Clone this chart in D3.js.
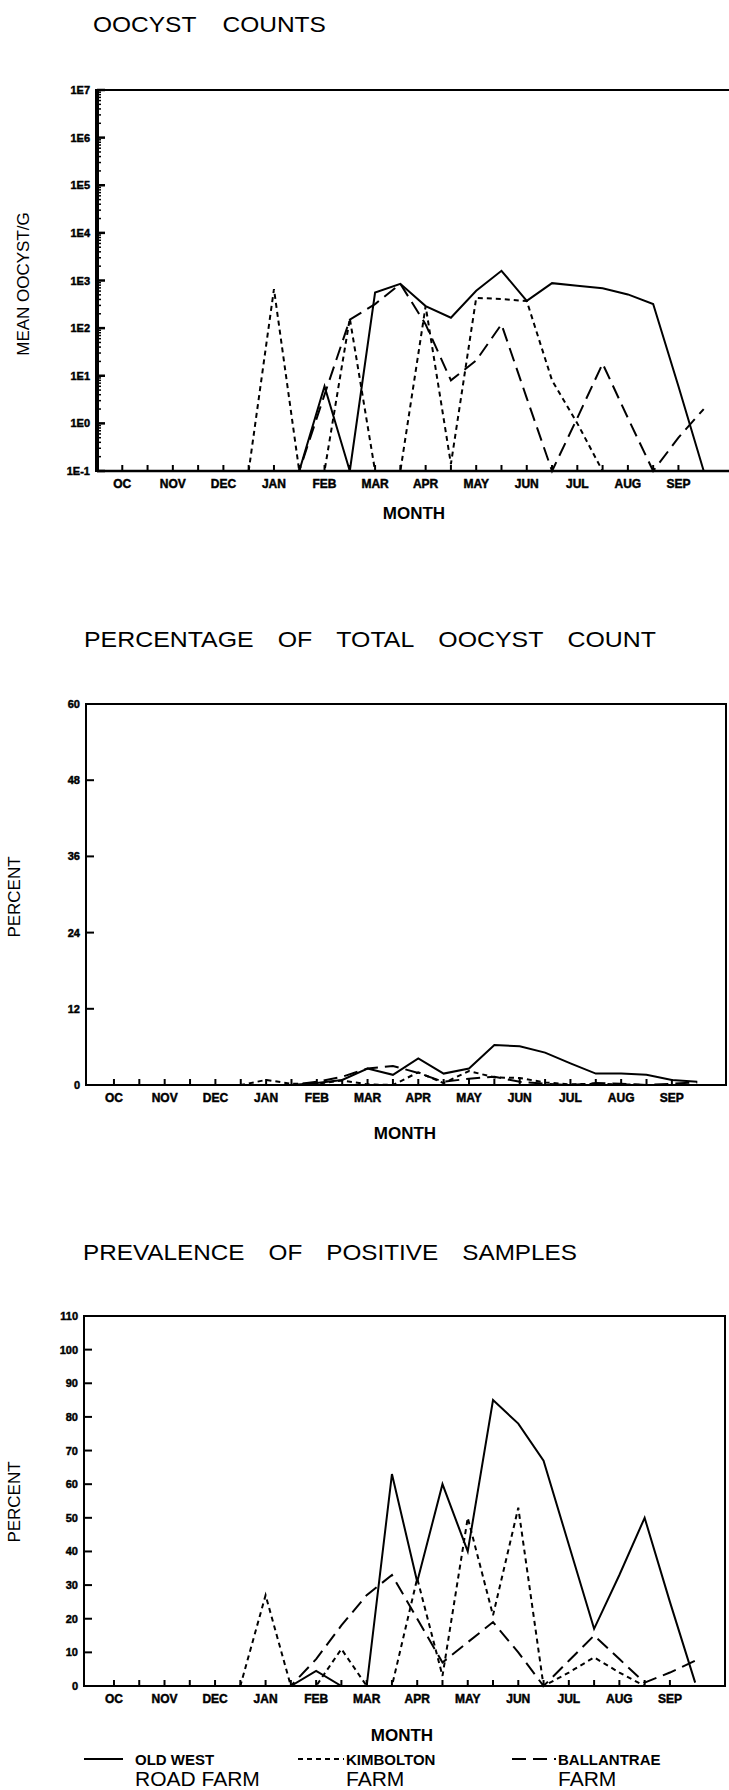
<!DOCTYPE html>
<html><head><meta charset="utf-8">
<script src="https://cdn.jsdelivr.net/npm/d3@7"></script>
<style>
body{margin:0;background:#fff;}
svg{display:block;}
text{font-family:"Liberation Sans",Arial,sans-serif;fill:#000;}
text.heavy{stroke:#000;stroke-width:0.45px;}
</style></head><body>
<svg id="c" width="729" height="1790"></svg>
<script>
// ---------- DATA ----------
const monthLabels = ["OC","NOV","DEC","JAN","FEB","MAR","APR","MAY","JUN","JUL","AUG","SEP"];
const monthTickIdx = [1,3,5,7,9,11,13,15,17,19,21,23];
const halfMonthTicks = [1,2,3,4,5,6,7,8,9,10,11,12,13,14,15,16,17,18,19,20,21,22,23];
const sampleIdx = [1,2,3,4,5,6,7,8,9,10,11,12,13,14,15,16,17,18,19,20,21,22,23,24];

// Chart 1: mean oocyst / g (log scale; 0 drawn on the 1E-1 floor)
const countOWRF = [0,0,0,0,0,0,0,0,6,0,560,850,290,165,610,1600,375,880,780,690,510,320,6,0];
const countKim  = [0,0,0,0,0,0,660,0,0,160,0,0,290,0.14,430,410,370,8,1,0,0,0,0,0];
const countBal  = [0,0,0,0,0,0,0,0,4,150,320,850,120,8,21,120,3.4,0,1.3,18,1.3,0,0.5,2];
const logTickLabels = ["1E-1","1E0","1E1","1E2","1E3","1E4","1E5","1E6","1E7"];
const logTickValues = [1e-1,1e0,1e1,1e2,1e3,1e4,1e5,1e6,1e7];

// Chart 2: percentage of total oocyst count
const pctOWRF = [0,0,0,0,0,0,0,0,0.3,0.8,2.6,1.6,4.2,1.8,2.6,6.3,6.1,5.1,3.4,1.8,1.8,1.6,0.8,0.5];
const pctKim  = [0,0,0,0,0,0,0.8,0.2,0.2,0.7,0.1,0,2.0,0.3,2.2,1.2,1.1,0.4,0.1,0.2,0.1,0,0,0];
const pctBal  = [0,0,0,0,0,0,0,0,0.5,1.3,2.6,3.0,1.9,0.5,1.0,1.3,0.5,0.2,0,0.3,0.2,0,0.2,0.4];
const pctTicks = [0,12,24,36,48,60];

// Chart 3: prevalence of positive samples (%)
const prevOWRF = [0,0,0,0,0,0,0,0,4.5,0,0,63,31,60,40,85,78,67,42,17,33,50,25,1];
const prevKim  = [0,0,0,0,0,0,27,0,0,11,0,0,32,3,50,21,53,0,4,8.5,4,0,0,0];
const prevBal  = [0,0,0,0,0,0,0,0,8,18,27,33,20,7,13,19,10,0,7.5,15,8,1,4,7.5];
const prevTicks = [0,10,20,30,40,50,60,70,80,90,100,110];

const seriesNames = [["OLD WEST","ROAD FARM"],["KIMBOLTON","FARM"],["BALLANTRAE","FARM"]];
const dashes = [null,"5,4","14,7"];

// ---------- DRAW ----------
const svg = d3.select("#c");

// place words between x0 and x1, stretched horizontally, fixed gap between words
function fitWords(str, x0, x1, y, size, gap){
  const words = str.split(" ");
  const texts = words.map(w => svg.append("text").attr("x",0).attr("y",0).style("font-size", size+"px").text(w));
  const widths = texts.map(t => t.node().getComputedTextLength());
  const s = (x1 - x0 - gap*(words.length-1)) / d3.sum(widths);
  let cx = x0;
  texts.forEach((t,k)=>{
    t.attr("transform", `translate(${cx},${y}) scale(${s},1)`);
    cx += widths[k]*s + gap;
  });
}

function drawSeries(g, x, y, vals, dash, floor){
  const pts = sampleIdx.map((d,k)=>({i:d, v: floor!==undefined ? Math.max(vals[k], floor) : vals[k]}));
  const line = d3.line().x(d=>x(d.i)).y(d=>y(d.v));
  g.append("path").datum(pts).attr("d", line)
    .attr("fill","none").attr("stroke","#000").attr("stroke-width",2)
    .attr("stroke-linejoin","miter")
    .attr("stroke-dasharray", dash);
}

function xAxis(g, x, yBase, labelY){
  g.selectAll(".ht").data(halfMonthTicks).join("line")
    .attr("x1",d=>x(d)).attr("x2",d=>x(d)).attr("y1",yBase).attr("y2",yBase-6)
    .attr("stroke","#000").attr("stroke-width",2);
  g.selectAll(".ml").data(monthTickIdx).join("text")
    .attr("class","heavy")
    .attr("x",(d)=>x(d)).attr("y",labelY).attr("text-anchor","middle")
    .style("font-size","12px").style("font-weight","bold")
    .text((d,k)=>monthLabels[k]);
}

// ===== Chart 1 =====
{
  const left = 97, top = 90, bottom = 471, right = 729;
  const x = d3.scaleLinear().domain([0,25]).range([97,729]);
  const y = d3.scaleLog().domain([0.1,1e7]).range([bottom, top]);
  const g = svg.append("g");
  fitWords("OOCYST COUNTS", 93, 326, 32, 22, 26);
  g.append("line").attr("x1",left).attr("x2",right).attr("y1",top).attr("y2",top).attr("stroke","#000").attr("stroke-width",2);
  g.append("line").attr("x1",left).attr("x2",right).attr("y1",bottom).attr("y2",bottom).attr("stroke","#000").attr("stroke-width",2.5);
  g.append("line").attr("x1",left).attr("x2",left).attr("y1",top-1).attr("y2",bottom+1).attr("stroke","#000").attr("stroke-width",4);
  const minors = [];
  logTickValues.slice(0,-1).forEach(v=>{ for(let m=2;m<10;m++) minors.push(v*m); });
  g.selectAll(".mn").data(minors).join("line")
    .attr("x1",left).attr("x2",left+4).attr("y1",d=>y(d)).attr("y2",d=>y(d))
    .attr("stroke","#000").attr("stroke-width",1.5);
  g.selectAll(".mj").data(logTickValues).join("line")
    .attr("x1",left).attr("x2",left+8).attr("y1",d=>y(d)).attr("y2",d=>y(d))
    .attr("stroke","#000").attr("stroke-width",2.5);
  g.selectAll(".yl").data(logTickValues).join("text")
    .attr("class","heavy")
    .attr("x",left-7).attr("y",d=>y(d)+4).attr("text-anchor","end")
    .style("font-size","11px").style("font-weight","bold")
    .text((d,k)=>logTickLabels[k]);
  xAxis(g, x, bottom, 488);
  svg.append("text").attr("transform","translate(29,284) rotate(-90)").attr("text-anchor","middle")
    .style("font-size","17px").text("MEAN OOCYST/G");
  svg.append("text").attr("x",414).attr("y",519).attr("text-anchor","middle")
    .style("font-size","17px").style("font-weight","bold").text("MONTH");
  drawSeries(g, x, y, countOWRF, dashes[0], 0.1);
  drawSeries(g, x, y, countKim, dashes[1], 0.1);
  drawSeries(g, x, y, countBal, dashes[2], 0.1);
}

// ===== Chart 2 =====
{
  const left = 86, top = 704, bottom = 1085, right = 726;
  const x = d3.scaleLinear().domain([0,25]).range([88.6, 88.6+25*25.36]);
  const y = d3.scaleLinear().domain([0,60]).range([bottom, top]);
  const g = svg.append("g");
  fitWords("PERCENTAGE OF TOTAL OOCYST COUNT", 84, 656, 647, 22, 24);
  g.append("rect").attr("x",left).attr("y",top).attr("width",right-left).attr("height",bottom-top)
    .attr("fill","none").attr("stroke","#000").attr("stroke-width",2);
  g.selectAll(".mj").data(pctTicks).join("line")
    .attr("x1",left).attr("x2",left+8).attr("y1",d=>y(d)).attr("y2",d=>y(d))
    .attr("stroke","#000").attr("stroke-width",2);
  g.selectAll(".yl").data(pctTicks).join("text")
    .attr("class","heavy")
    .attr("x",left-6).attr("y",d=>y(d)+4).attr("text-anchor","end")
    .style("font-size","11px").style("font-weight","bold").text(d=>d);
  xAxis(g, x, bottom, 1102);
  svg.append("text").attr("transform","translate(20,897) rotate(-90)").attr("text-anchor","middle")
    .style("font-size","17px").text("PERCENT");
  svg.append("text").attr("x",405).attr("y",1139).attr("text-anchor","middle")
    .style("font-size","17px").style("font-weight","bold").text("MONTH");
  drawSeries(g, x, y, pctOWRF, dashes[0]);
  drawSeries(g, x, y, pctKim, dashes[1]);
  drawSeries(g, x, y, pctBal, dashes[2]);
}

// ===== Chart 3 =====
{
  const left = 84, top = 1316, bottom = 1686, right = 725;
  const x = d3.scaleLinear().domain([0,25]).range([88.7, 88.7+25*25.27]);
  const y = d3.scaleLinear().domain([0,110]).range([bottom, top]);
  const g = svg.append("g");
  fitWords("PREVALENCE OF POSITIVE SAMPLES", 83, 577, 1260, 22, 24);
  g.append("rect").attr("x",left).attr("y",top).attr("width",right-left).attr("height",bottom-top)
    .attr("fill","none").attr("stroke","#000").attr("stroke-width",2);
  g.selectAll(".mj").data(prevTicks).join("line")
    .attr("x1",left).attr("x2",left+8).attr("y1",d=>y(d)).attr("y2",d=>y(d))
    .attr("stroke","#000").attr("stroke-width",2);
  g.selectAll(".yl").data(prevTicks).join("text")
    .attr("class","heavy")
    .attr("x",left-6).attr("y",d=>y(d)+4).attr("text-anchor","end")
    .style("font-size","11px").style("font-weight","bold").text(d=>d);
  xAxis(g, x, bottom, 1703);
  svg.append("text").attr("transform","translate(20,1502) rotate(-90)").attr("text-anchor","middle")
    .style("font-size","17px").text("PERCENT");
  svg.append("text").attr("x",402).attr("y",1741).attr("text-anchor","middle")
    .style("font-size","17px").style("font-weight","bold").text("MONTH");
  drawSeries(g, x, y, prevOWRF, dashes[0]);
  drawSeries(g, x, y, prevKim, dashes[1]);
  drawSeries(g, x, y, prevBal, dashes[2]);

  const lg = svg.append("g");
  const sampleX = [[84,123],[298,344],[512,556]];
  const textX = [135,346,558];
  seriesNames.forEach((nm,k)=>{
    lg.append("line").attr("x1",sampleX[k][0]).attr("x2",sampleX[k][1]).attr("y1",1759).attr("y2",1759)
      .attr("stroke","#000").attr("stroke-width",2).attr("stroke-dasharray",dashes[k]);
    lg.append("text").attr("x",textX[k]).attr("y",1765).style("font-size","15px").style("font-weight","bold").text(nm[0]);
    lg.append("text").attr("x",textX[k]).attr("y",1786).style("font-size","21px").text(nm[1]);
  });
}
</script>
</body></html>
